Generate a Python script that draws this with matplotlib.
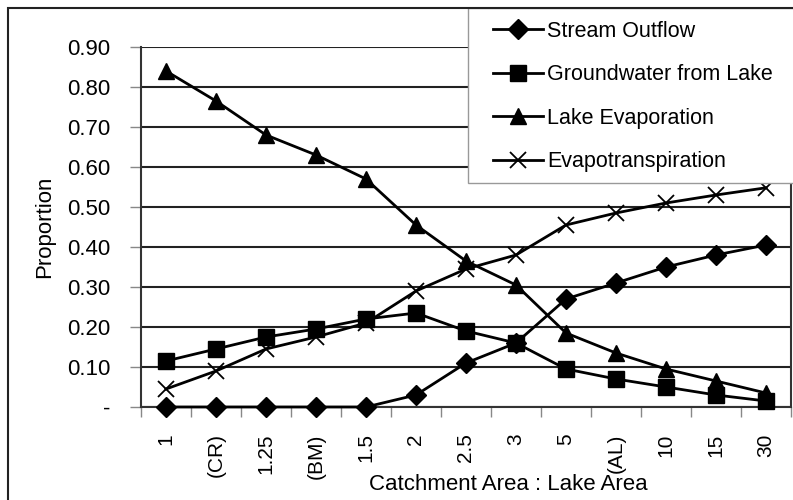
import numpy as np
import matplotlib
matplotlib.use("Agg")
import matplotlib.pyplot as plt
import matplotlib.patches as mpatches
from matplotlib.ticker import FixedLocator, FuncFormatter

plt.rcParams['font.family'] = ['Liberation Sans', 'DejaVu Sans']

categories = ['1', '(CR)', '1.25', '(BM)', '1.5', '2', '2.5', '3', '5', '(AL)', '10', '15', '30']
stream_outflow = [0, 0, 0, 0, 0, 0.03, 0.11, 0.16, 0.27, 0.31, 0.35, 0.38, 0.405]
groundwater = [0.115, 0.145, 0.175, 0.195, 0.22, 0.235, 0.19, 0.16, 0.095, 0.07, 0.05, 0.03, 0.015]
lake_evap = [0.84, 0.765, 0.68, 0.63, 0.57, 0.455, 0.365, 0.305, 0.185, 0.135, 0.095, 0.065, 0.035]
evapotrans = [0.045, 0.09, 0.145, 0.175, 0.21, 0.29, 0.345, 0.38, 0.455, 0.485, 0.51, 0.53, 0.548]
yticks = [0, 0.1, 0.2, 0.3, 0.4, 0.5, 0.6, 0.7, 0.8, 0.9]

W, H = 793, 500
fig = plt.figure(figsize=(W/100, H/100), dpi=100)
# outer chart frame
fig.patches.append(mpatches.Rectangle((8/W, -0.1), 1.2, 1 - 8/H + 0.1, transform=fig.transFigure,
                                      fill=False, edgecolor='#222222', linewidth=1.5))
ax = fig.add_axes([141/W, (H-407)/H, 650/W, 360/H])

x = np.arange(len(categories))
series = [
    ('Stream Outflow', stream_outflow, 'D', 10.5),
    ('Groundwater from Lake', groundwater, 's', 11.5),
    ('Lake Evaporation', lake_evap, '^', 12),
    ('Evapotranspiration', evapotrans, 'x', 11),
]
for name, vals, mk, ms in series:
    ax.plot(x, vals, color='black', linewidth=2, marker=mk, markersize=ms,
            markeredgewidth=1.3 if mk == 'x' else 1, label=name, clip_on=False, zorder=3)

ax.set_xlim(-0.5, len(categories) - 0.5)
ax.set_ylim(0, 0.9)
ax.yaxis.set_major_locator(FixedLocator(yticks))
ax.yaxis.set_major_formatter(FuncFormatter(lambda v, p: '-' if v == 0 else f'{v:.2f}'))
ax.grid(axis='y', color='#222222', linewidth=1.5)
ax.set_axisbelow(True)

ax.set_xticks(x)
ax.set_xticklabels(categories, rotation=90, fontsize=15)
ax.tick_params(axis='x', length=0, pad=19)
ax.set_xticks(np.arange(-0.5, len(categories)), minor=True)
ax.tick_params(axis='x', which='minor', length=7, width=1, color='#888888')
ax.tick_params(axis='y', labelsize=16, length=8, width=1, color='#888888', pad=14)

for s in ['left', 'right', 'bottom']:
    ax.spines[s].set_color('#333333')
    ax.spines[s].set_linewidth(1.5)
ax.spines['top'].set_visible(False)

ax.set_ylabel('Proportion', fontsize=16)
ax.yaxis.set_label_coords((55 - 141)/650, 0.5)
ax.set_xlabel('Catchment Area : Lake Area', fontsize=16)
ax.xaxis.set_label_coords((508 - 141)/650, (407 - 474)/360)

# legend box drawn separately so its padding matches the original
box = mpatches.Rectangle((468/W, 1 - 183/H), 1.0, 175/H, transform=fig.transFigure,
                         facecolor='white', edgecolor='#999999', linewidth=1, zorder=4, clip_on=False)
ax.add_patch(box)
leg = ax.legend(loc='upper left', bbox_to_anchor=(493/W, 1 - 21/H), bbox_transform=fig.transFigure,
                fontsize=15.5, frameon=False, handlelength=2.3, handletextpad=0.2,
                labelspacing=1.04, borderpad=0, borderaxespad=0)
leg.set_zorder(5)

fig.savefig('out.png', dpi=100, facecolor='white')
